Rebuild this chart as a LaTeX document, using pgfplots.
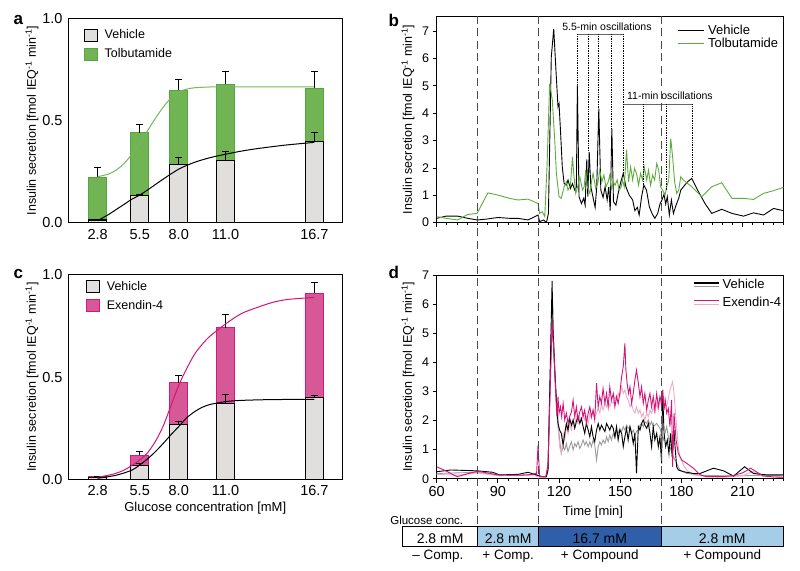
\documentclass[border=0pt]{standalone}
\usepackage{pgfplots}
\pgfplotsset{compat=1.18}
\usepackage{fontspec}
\setmainfont{Liberation Sans}
\newcommand{\fs}[1]{\fontsize{#1}{#1}\selectfont}
\definecolor{vehgray}{RGB}{224,223,221}
\definecolor{tolfill}{RGB}{112,180,84}
\definecolor{toledge}{RGB}{84,166,62}
\definecolor{tolline}{RGB}{92,172,62}
\definecolor{exfill}{RGB}{214,88,150}
\definecolor{exedge}{RGB}{212,25,125}
\definecolor{exline}{RGB}{212,20,120}
\definecolor{exlight}{RGB}{240,172,202}
\definecolor{vgray}{RGB}{155,155,155}
\definecolor{lblue}{RGB}{166,205,232}
\definecolor{dblue}{RGB}{47,95,168}
\tikzset{
  vehbar/.style={fill=vehgray, draw=black, line width=1.1pt},
  tolbar/.style={fill=tolfill, draw=toledge, line width=1pt},
  exbar/.style={fill=exfill, draw=exedge, line width=1pt},
}
\pgfplotsset{
  every axis/.append style={scale only axis, anchor=south west, axis line style={line width=0.9pt}, tick style={black, line width=0.8pt}, /pgf/number format/assume math mode=true},
  barax/.style={xmin=0.9, xmax=18.5, ymin=0, ymax=1, width=274.5pt, height=204.4pt,
    xtick={2.8,5.5,8,11,16.7}, xticklabels={2.8,5.5,8.0,11.0,16.7},
    ytick={0,0.5,1}, yticklabels={0.0,0.5,1.0}, major tick length=0pt,
    tick label style={font=\fs{14.5}}, xticklabel style={yshift=-3pt}, yticklabel style={xshift=-2pt},
    ylabel={Insulin secretion [fmol IEQ\textsuperscript{-1} min\textsuperscript{-1}]},
    every axis y label/.style={at={(rel axis cs:0,0.5)}, xshift=-36pt, rotate=90, anchor=center, font=\fs{12.5}},
    legend style={draw=none, fill=none, font=\fs{12.5}, anchor=north west, row sep=6pt, column sep=6pt, inner sep=0pt, nodes={inner sep=1pt}},
    legend cell align=left, reverse legend},
  timeax/.style={xmin=60, xmax=230, ymin=0, width=346.6pt,
    xtick={60,90,...,210}, minor xtick={65,70,...,230}, ytick={0,...,7},
    tick align=outside, major tick length=4pt, minor tick length=2.5pt, xtick pos=bottom, ytick pos=left,
    xticklabel style={font=\fs{14.5}}, yticklabel style={font=\fs{12.5}},
    ylabel={Insulin secretion [fmol IEQ\textsuperscript{-1} min\textsuperscript{-1}]},
    every axis y label/.style={at={(rel axis cs:0,0.5)}, xshift=-28.7pt, rotate=90, anchor=center, font=\fs{12.5}},
    legend style={draw=none, fill=none, font=\fs{13}, anchor=north west, column sep=3pt, inner sep=0pt, nodes={inner sep=1pt}},
    legend cell align=left},
  ebar/.style={error bars/.cd, y dir=plus, y explicit, error bar style={black, line width=1pt}, error mark options={rotate=90, black, mark size=3.5pt, line width=1pt}},
}
\begin{document}
\begin{tikzpicture}[x=1pt,y=1pt]
\useasboundingbox (0pt,0pt) rectangle (800pt,570pt);
% ---------------- a ----------------
\begin{axis}[barax, at={(68pt,347.3pt)}, legend style={at={(0.056,0.951)}}]
\addplot[ybar, bar width=18pt, bar shift=0pt, tolbar, legend image code/.code={\draw[tolbar] (0pt,-6pt) rectangle (13pt,6pt);}, ebar]
 coordinates {(2.8,0.223) +- (0,0.046) (5.5,0.439) +- (0,0.041) (8.0,0.649) +- (0,0.054) (11.0,0.677) +- (0,0.062) (16.7,0.657) +- (0,0.082)};
\addplot[ybar, bar width=18pt, bar shift=0pt, vehbar, legend image code/.code={\draw[vehbar] (0pt,-6pt) rectangle (13pt,6pt);}, ebar]
 coordinates {(2.8,0.013) +- (0,0.003) (5.5,0.132) +- (0,0.006) (8.0,0.285) +- (0,0.033) (11.0,0.303) +- (0,0.044) (16.7,0.396) +- (0,0.046)};
\addplot[forget plot, smooth, tolline!85!white, line width=1pt] coordinates {(2.8,0.225) (3.5,0.238) (4,0.258) (4.5,0.29) (5,0.335) (5.5,0.385) (6,0.45) (6.5,0.51) (7,0.565) (7.5,0.61) (8,0.64) (8.5,0.653) (9,0.66) (10,0.664) (11,0.665) (13,0.665) (16.7,0.665)};
\addplot[forget plot, smooth, black, line width=1pt] coordinates {(2.8,0.01) (3.5,0.04) (4,0.065) (4.5,0.09) (5,0.115) (5.5,0.135) (6,0.16) (7,0.213) (8,0.262) (9,0.295) (10,0.318) (11,0.335) (12,0.35) (13,0.362) (14,0.372) (15,0.381) (16.7,0.393)};
\legend{Tolbutamide,Vehicle}
\end{axis}
% ---------------- c ----------------
\begin{axis}[barax, at={(68pt,90.7pt)}, legend style={at={(0.064,0.976)}},
  xlabel={Glucose concentration [mM]},
  every axis x label/.style={at={(rel axis cs:0.5,0)}, yshift=-29pt, anchor=center, font=\fs{13}}]
\addplot[ybar, bar width=18pt, bar shift=0pt, exbar, legend image code/.code={\draw[exbar] (0pt,-6pt) rectangle (13pt,6pt);}, ebar]
 coordinates {(2.8,0.013) +- (0,0.003) (5.5,0.117) +- (0,0.02) (8.0,0.473) +- (0,0.036) (11.0,0.742) +- (0,0.066) (16.7,0.910) +- (0,0.052)};
\addplot[ybar, bar width=18pt, bar shift=0pt, vehbar, legend image code/.code={\draw[vehbar] (0pt,-6pt) rectangle (13pt,6pt);}, ebar]
 coordinates {(2.8,0.010) +- (0,0.003) (5.5,0.069) +- (0,0.006) (8.0,0.266) +- (0,0.018) (11.0,0.372) +- (0,0.041) (16.7,0.401) +- (0,0.010)};
\addplot[forget plot, smooth, exline, line width=1pt] coordinates {(2.8,0.01) (3.5,0.02) (4,0.03) (4.5,0.045) (5,0.068) (5.5,0.095) (6,0.13) (6.5,0.185) (7,0.26) (7.5,0.36) (8,0.46) (8.5,0.54) (9,0.61) (9.5,0.66) (10,0.70) (11,0.76) (12,0.81) (13,0.84) (14,0.865) (15,0.88) (16.7,0.89)};
\addplot[forget plot, smooth, black, line width=1pt] coordinates {(2.8,0.005) (4,0.02) (5,0.045) (5.5,0.07) (6,0.10) (6.5,0.135) (7,0.175) (7.5,0.218) (8,0.258) (8.5,0.30) (9,0.33) (9.5,0.352) (10,0.366) (11,0.38) (12,0.386) (14,0.39) (16.7,0.391)};
\legend{Exendin-4,Vehicle}
\end{axis}
% ---------------- b ----------------
\begin{axis}[timeax, at={(436.7pt,347.3pt)}, height=206.7pt, ymax=7.55, xticklabels={},
  legend style={at={(0.693,0.96)}}, legend image code/.code={\draw[#1, line width=1pt] (0pt,0pt) -- (26pt,0pt);}]
\addplot[black, line width=0.9pt] coordinates {(60,0.16)(64.6,0.24)(70.3,0.24)(75.2,0.16)(79.8,0.10)(84.3,0.13)(90,0.19)(95.7,0.16)(99.8,0.16)(104.8,0.10)(109.7,0.28)(110.5,0.04)(112.5,0.10)(113.8,0.0)(114.8,0.34)(116.2,6.05)(117.4,7.08)(118.4,5.69)(119.5,4.23)(120,4.35)(120.7,3.38)(121.6,2.04)(122.5,1.43)(123.6,1.37)(124.4,1.56)(125.6,1.25)(126.6,1.43)(127.7,1.19)(128.5,1.3)(129,5.02)(129.8,0.95)(131,0.70)(132.1,0.89)(132.8,0.64)(133.6,2.31)(134.1,0.95)(134.8,2.59)(135.6,1.31)(136.6,0.95)(137.7,0.56)(138.5,1.31)(139.5,4.17)(140.5,1.19)(141.6,0.92)(142.6,1.31)(143.6,0.83)(144.4,1.31)(145.1,0.44)(145.9,3.44)(146.7,0.77)(147.9,0.64)(149,1.07)(150.3,1.49)(151.5,1.80)(152.8,1.31)(154.4,1.01)(156.1,0.83)(157.2,0.44)(158.4,0.56)(159.3,0.28)(160.5,0.95)(161.6,1.37)(162.9,1.19)(164.3,0.58)(165.7,0.32)(167,0.16)(168.4,0.34)(169.5,0.68)(170.5,0.83)(171.5,1.04)(172.3,0.68)(173.1,0.95)(174.1,0.28)(175.1,0.83)(176.1,0.34)(177.4,0.64)(178.7,0.89)(179.7,1.19)(181.3,1.34)(183,1.49)(185.1,1.62)(188.4,1.13)(191.6,0.70)(194.9,0.34)(199.8,0.49)(204.8,0.34)(210.5,0.24)(215.4,0.36)(220.3,0.28)(225.2,0.52)(230,0.44)};
\addlegendentry{Vehicle}
\addplot[tolline, line width=0.9pt] coordinates {(60,0.22)(64.6,0.16)(70.3,0.10)(75.2,0.30)(79.8,0.34)(85.1,1.09)(90,1.01)(95.7,0.89)(99.8,0.83)(104.8,0.86)(109.7,0.70)(110.5,0.34)(111.8,0.40)(113,0.22)(114.1,2.04)(115.4,5.08)(116.7,4.47)(117.9,3.01)(118.7,1.80)(120,0.95)(121.1,0.89)(122.5,1.31)(123.6,1.49)(124.4,1.19)(125.6,1.37)(126.6,2.41)(127.2,1.80)(128.2,1.07)(129.3,1.37)(130.2,1.68)(131.5,1.19)(132.3,1.31)(133.1,1.92)(133.9,1.31)(135.1,1.07)(135.9,1.49)(136.7,1.80)(138,1.25)(139,1.43)(140,1.92)(141,1.49)(142,1.74)(143,1.31)(144.1,1.49)(144.9,1.74)(145.7,1.25)(146.6,1.49)(147.5,1.37)(148.5,1.56)(149.5,1.19)(150.5,1.31)(151.1,1.56)(152,1.31)(153.1,2.67)(154.1,1.49)(155.1,2.04)(156.1,1.56)(157,1.98)(158,1.80)(159,1.37)(160,1.80)(161,1.56)(161.8,2.04)(163,1.56)(163.9,1.92)(164.9,1.37)(165.9,1.74)(166.9,1.56)(167.9,2.16)(168.9,1.92)(169.8,1.31)(170.8,1.19)(172,1.01)(172.8,1.31)(173.8,1.56)(174.8,3.07)(175.7,2.41)(176.7,1.49)(177.7,1.07)(178.7,1.19)(179.7,1.68)(181,1.56)(185.1,1.31)(190,0.95)(194.9,1.31)(199.8,1.46)(204.8,0.89)(210.5,0.89)(215.4,0.85)(220.3,1.07)(225.2,1.17)(230,1.29)};
\addlegendentry{Tolbutamide}
% oscillation annotations
\draw[black!60, line width=0.6pt] (axis cs:129,6.88) -- (axis cs:151.5,6.88);
\draw[black!60, line width=0.6pt] (axis cs:151.5,4.32) -- (axis cs:185.6,4.32);
\draw[densely dotted, line width=0.7pt] (axis cs:129,6.88) -- (axis cs:129,5.02)
  (axis cs:134.6,6.88) -- (axis cs:134.6,2.6) (axis cs:139.5,6.88) -- (axis cs:139.5,4.17)
  (axis cs:145.9,6.88) -- (axis cs:145.9,3.44) (axis cs:151.5,6.88) -- (axis cs:151.5,1.80)
  (axis cs:161.3,4.32) -- (axis cs:161.3,1.37) (axis cs:172.8,4.32) -- (axis cs:172.8,1.19)
  (axis cs:185.6,4.32) -- (axis cs:185.6,1.68);
\node[font=\fs{10.5}] at (axis cs:143.5,7.17) {5.5-min oscillations};
\node[font=\fs{10.5}] at (axis cs:174.4,4.62) {11-min oscillations};
\end{axis}
% ---------------- d ----------------
\begin{axis}[timeax, at={(436.7pt,91.3pt)}, height=203.7pt, ymax=7,
  xlabel={Time [min]},
  every axis x label/.style={at={(rel axis cs:0.5,0)}, xshift=-17pt, yshift=-33.3pt, anchor=center, font=\fs{13}},
  legend style={at={(0.74,0.985)}, row sep=5pt, column sep=2pt}]
\addplot[forget plot, vgray, line width=0.9pt] coordinates {(60,0.18)(70,0.20)(80,0.22)(90,0.12)(100,0.12)(108,0.15)(110.5,0.10)(113.5,0.05)(114.6,0.3)(116.7,6.37)(117.5,4.5)(118.7,2.59)(120.3,1.33)(121.1,0.87)(122.0,1.10)(122.8,0.99)(123.6,1.21)(124.4,0.93)(125.2,1.10)(126.1,1.27)(126.9,0.99)(127.7,1.21)(128.5,1.10)(129.3,1.27)(130.2,1.04)(131.0,1.16)(131.8,1.33)(132.6,1.16)(133.4,1.27)(134.3,1.10)(135.1,1.27)(135.9,1.10)(136.7,1.33)(137.5,1.16)(138.4,0.64)(139.2,1.10)(140.0,1.27)(140.8,1.16)(141.6,1.33)(142.5,1.21)(143.3,1.44)(144.1,1.27)(144.9,1.50)(145.7,1.33)(146.6,1.56)(147.4,1.39)(148.2,1.62)(149.0,1.56)(149.8,1.73)(150.7,1.62)(151.5,1.79)(152.3,1.67)(153.1,1.84)(153.9,1.73)(154.8,1.79)(155.6,1.56)(156.4,1.67)(157.2,1.50)(158.0,1.62)(158.9,1.67)(159.7,1.84)(160.5,1.90)(161.3,1.79)(162.1,1.96)(163.0,1.90)(163.8,2.02)(164.6,1.84)(165.4,1.96)(166.2,1.79)(167.9,1.90)(169.5,1.73)(171.1,1.33)(172.8,1.79)(174.4,1.10)(176.0,0.76)(177.7,0.53)(179.3,0.30)(182.6,0.18)(190,0.12)(200,0.10)(210,0.10)(220,0.12)(230,0.10)};
\addplot[forget plot, exlight, line width=0.9pt] coordinates {(60,0.15)(70,0.12)(80,0.20)(90,0.10)(100,0.10)(108,0.10)(110.5,0.05)(113.5,0.05)(114.6,0.4)(116.6,6.03)(117.9,3.51)(119.0,2.13)(120.3,1.10)(121.1,0.87)(122.0,1.56)(122.8,1.33)(123.6,1.79)(124.4,1.56)(125.2,1.90)(126.1,1.67)(126.9,2.02)(127.7,1.79)(128.5,2.13)(129.3,1.90)(130.2,2.13)(131.0,2.02)(131.8,2.25)(132.6,2.02)(133.4,2.13)(134.3,1.90)(135.1,2.25)(135.9,2.07)(136.7,2.36)(137.5,2.13)(138.4,2.25)(139.2,2.42)(140.0,2.25)(140.8,2.59)(141.6,2.36)(142.5,2.59)(143.3,2.47)(144.1,2.70)(144.9,2.47)(145.7,2.65)(146.6,2.59)(147.4,2.82)(148.2,2.70)(149.0,2.93)(149.8,2.82)(150.7,3.16)(151.5,2.93)(152.3,3.05)(153.1,2.82)(153.9,2.70)(154.8,2.47)(155.6,2.59)(156.4,2.36)(157.2,2.25)(158.0,2.47)(158.9,2.25)(159.7,2.36)(160.5,2.13)(161.3,2.25)(162.1,2.02)(163.0,2.25)(163.8,2.13)(164.6,2.36)(165.4,2.25)(166.2,2.47)(167.0,2.25)(167.9,2.59)(168.7,2.36)(169.5,2.70)(170.3,2.47)(171.1,2.82)(172.8,2.47)(174.4,3.05)(175.7,3.33)(176.4,2.93)(177.4,2.02)(178.5,1.10)(179.3,0.76)(181.0,0.47)(182.6,0.30)(185.9,0.13)(192.5,0.07)(200,0.05)(210,0.10)(215,0.25)(220,0.08)(230,0.05)};
\addplot[black, line width=0.9pt, legend image code/.code={\draw[black, line width=1.2pt] (0pt,1.8pt) -- (25pt,1.8pt); \draw[vgray, line width=1.2pt] (0pt,-1.8pt) -- (25pt,-1.8pt);}] coordinates {(60,0.24)(67,0.30)(80,0.27)(87.5,0.22)(90.8,0.13)(100,0.15)(104.8,0.22)(108.9,0.13)(111.3,0.07)(113.8,0.07)(114.6,0.3)(116.6,6.80)(117.0,5.22)(117.9,3.73)(118.7,2.70)(119.5,1.90)(120.3,1.67)(121.1,1.56)(122.0,1.16)(122.8,1.56)(123.6,1.90)(124.4,1.67)(125.2,2.07)(126.1,1.84)(126.9,2.02)(127.7,1.73)(128.5,1.96)(129.3,2.13)(130.2,1.90)(131.0,2.07)(131.8,1.79)(132.6,1.56)(133.4,1.90)(134.3,1.67)(135.1,1.44)(135.9,1.79)(136.7,1.44)(137.5,1.27)(138.4,1.67)(139.2,1.90)(140.0,1.67)(140.8,1.84)(141.6,1.73)(142.5,1.62)(143.3,1.90)(144.1,1.79)(144.9,1.67)(145.7,1.84)(146.6,1.73)(147.4,1.44)(148.2,1.79)(149.0,1.33)(149.8,1.67)(150.7,1.56)(151.5,1.10)(152.3,1.44)(153.1,1.73)(153.9,1.33)(154.8,1.79)(155.6,1.56)(156.4,1.21)(157.2,1.56)(158.0,0.18)(158.9,1.79)(159.7,1.67)(160.5,1.90)(161.3,2.02)(162.1,1.84)(163.0,1.73)(163.8,1.90)(164.6,1.56)(165.4,1.10)(166.2,1.79)(167.0,1.33)(167.9,1.56)(168.7,1.10)(169.5,1.44)(170.3,0.53)(170.8,3.05)(171.5,1.56)(172.3,1.10)(173.1,1.33)(173.9,0.87)(174.7,1.56)(175.5,0.76)(176.4,1.67)(176.9,1.10)(177.7,0.41)(178.5,0.30)(181,0.24)(185.9,0.18)(189.2,0.18)(195.7,0.36)(200.7,0.27)(205.6,0.09)(211,0.41)(215.4,0.18)(222,0.13)(230,0.13)};
\addlegendentry{Vehicle}
\addplot[exline, line width=0.9pt, legend image code/.code={\draw[exline, line width=1.2pt] (0pt,1.8pt) -- (25pt,1.8pt); \draw[exlight, line width=1.2pt] (0pt,-1.8pt) -- (25pt,-1.8pt);}] coordinates {(60,0.41)(65,0.25)(70,0.07)(80,0.26)(90,0.13)(100,0.12)(105,0.13)(109,0.18)(109.7,1.16)(110.5,0.07)(113.5,0.07)(114.6,0.5)(116.6,5.34)(117.5,4.31)(118.4,2.93)(119.0,2.13)(119.5,2.82)(120.0,2.25)(120.7,2.47)(121.3,2.13)(122.0,2.59)(122.8,2.02)(123.6,2.25)(124.4,1.90)(125.2,2.13)(126.1,2.30)(126.9,2.70)(127.7,2.13)(128.5,2.47)(129.3,2.02)(130.2,2.30)(131.0,2.47)(131.8,2.13)(132.6,2.36)(133.4,1.90)(134.3,2.25)(135.1,2.47)(135.9,2.13)(136.7,2.36)(137.5,2.02)(138.4,3.28)(139.2,2.47)(140.0,2.82)(140.8,2.59)(141.6,3.10)(142.5,2.59)(143.3,2.93)(144.1,2.47)(144.9,3.16)(145.7,2.70)(146.6,2.93)(147.4,2.47)(148.2,2.82)(149.0,2.59)(149.8,2.93)(150.7,3.51)(151.5,3.85)(152.3,4.65)(152.8,3.73)(153.4,3.28)(154.1,2.93)(154.8,3.16)(155.6,2.59)(156.4,2.93)(157.2,3.39)(158.0,3.73)(158.9,3.28)(159.7,2.82)(160.5,3.16)(161.3,2.59)(162.1,2.93)(163.0,2.36)(163.8,2.70)(164.6,2.93)(165.4,2.47)(166.2,2.82)(167.0,2.36)(167.9,2.93)(168.7,2.47)(169.5,2.82)(170.3,2.59)(170.8,3.05)(171.5,2.36)(172.1,2.70)(172.8,2.25)(173.6,2.42)(174.4,1.79)(175.2,2.70)(175.7,0.41)(176.4,2.25)(177.4,1.33)(178.5,0.87)(180.2,0.64)(182.6,0.53)(185.9,0.36)(189.2,0.13)(192.5,0.07)(200,0.07)(205,0.10)(210,0.20)(214,0.36)(220,0.10)(225,0.06)(230,0.05)};
\addlegendentry{Exendin-4}
\end{axis}
% ---------------- dashed separators and glucose bar ----------------
\foreach \xx in {477.5,538.6,661.0}
  \draw[black!70, line width=1pt, dash pattern=on 8pt off 4.5pt] (\xx pt,554pt) -- (\xx pt,43.3pt);
\fill[white] (402.7pt,24pt) rectangle (477.5pt,43.3pt);
\fill[lblue] (477.5pt,24pt) rectangle (538.6pt,43.3pt);
\fill[dblue] (538.6pt,24pt) rectangle (661pt,43.3pt);
\fill[lblue] (661pt,24pt) rectangle (783.3pt,43.3pt);
\draw[line width=0.8pt] (402.7pt,24pt) rectangle (783.3pt,43.3pt);
\draw[line width=0.8pt] (477.5pt,24pt) -- (477.5pt,43.3pt) (538.6pt,24pt) -- (538.6pt,43.3pt) (661pt,24pt) -- (661pt,43.3pt);
\node[font=\fs{14}, anchor=base] at (440.1pt,27pt) {2.8 mM};
\node[font=\fs{14}, anchor=base] at (508.1pt,27pt) {2.8 mM};
\node[font=\fs{14}, anchor=base] at (599.8pt,27pt) {16.7 mM};
\node[font=\fs{14}, anchor=base] at (722.2pt,27pt) {2.8 mM};
\node[font=\fs{13.5}, anchor=base] at (438pt,11pt) {-- Comp.};
\node[font=\fs{13.5}, anchor=base] at (508.1pt,11pt) {+ Comp.};
\node[font=\fs{13.5}, anchor=base] at (599.8pt,11pt) {+ Compound};
\node[font=\fs{13.5}, anchor=base] at (722.2pt,11pt) {+ Compound};
\node[font=\fs{11.5}, anchor=base east] at (466.7pt,45.7pt) {Glucose conc.};
% panel letters
\node[font=\bfseries\fs{17}, anchor=base west] at (10pt,545pt) {a};
\node[font=\bfseries\fs{17}, anchor=base west] at (385pt,543.3pt) {b};
\node[font=\bfseries\fs{17}, anchor=base west] at (10pt,291.7pt) {c};
\node[font=\bfseries\fs{17}, anchor=base west] at (385pt,291.7pt) {d};
\end{tikzpicture}
\end{document}
